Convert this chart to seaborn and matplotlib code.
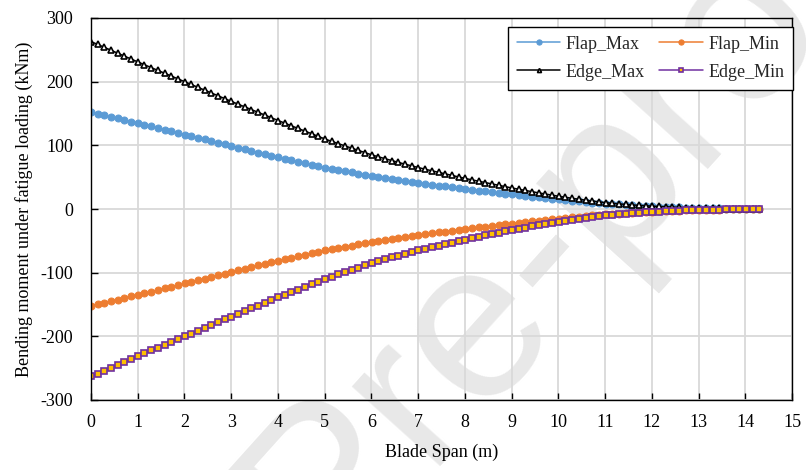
import numpy as np
import pandas as pd
import matplotlib
matplotlib.use("Agg")
import matplotlib.pyplot as plt
import seaborn as sns

# ---------------- data ----------------
span_m = np.linspace(0, 14.3, 101)

flap_max = [
    152.0, 149.6, 147.1, 144.7, 142.3, 139.9, 137.4, 135.0,
    132.4, 129.9, 127.3, 124.7, 122.1, 119.6, 117.0,
    114.4, 111.9, 109.3, 106.7, 104.1, 101.6, 99.0,
    96.4, 93.8, 91.2, 88.7, 86.1, 83.5, 81.0,
    78.6, 76.3, 74.0, 71.7, 69.4, 67.2, 65.0,
    63.0, 61.1, 59.3, 57.4, 55.6, 53.8, 52.0,
    50.4, 48.8, 47.2, 45.6, 44.0, 42.5, 41.0,
    39.6, 38.2, 36.9, 35.5, 34.2, 32.8, 31.5,
    30.3, 29.0, 27.8, 26.6, 25.4, 24.2, 23.0,
    21.8, 20.6, 19.5, 18.4, 17.2, 16.1, 15.0,
    14.0, 13.0, 12.1, 11.2, 10.2, 9.3, 8.5,
    7.8, 7.1, 6.4, 5.8, 5.2, 4.6, 4.0,
    3.6, 3.2, 2.8, 2.4, 2.1, 1.8, 1.5,
    1.2, 1.0, 0.8, 0.6, 0.4, 0.3, 0.2,
    0.1, 0.0,
]

flap_min = [
    -152.0, -149.6, -147.1, -144.7, -142.3, -139.9, -137.4, -135.0,
    -132.4, -129.9, -127.3, -124.7, -122.1, -119.6, -117.0,
    -114.4, -111.9, -109.3, -106.7, -104.1, -101.6, -99.0,
    -96.4, -93.8, -91.2, -88.7, -86.1, -83.5, -81.0,
    -78.6, -76.3, -74.0, -71.7, -69.4, -67.2, -65.0,
    -63.0, -61.1, -59.3, -57.4, -55.6, -53.8, -52.0,
    -50.4, -48.8, -47.2, -45.6, -44.0, -42.5, -41.0,
    -39.6, -38.2, -36.9, -35.5, -34.2, -32.8, -31.5,
    -30.3, -29.0, -27.8, -26.6, -25.4, -24.2, -23.0,
    -21.8, -20.6, -19.5, -18.4, -17.2, -16.1, -15.0,
    -14.0, -13.0, -12.1, -11.2, -10.2, -9.3, -8.5,
    -7.8, -7.1, -6.4, -5.8, -5.2, -4.6, -4.0,
    -3.6, -3.2, -2.8, -2.4, -2.1, -1.8, -1.5,
    -1.2, -1.0, -0.8, -0.6, -0.4, -0.3, -0.2,
    -0.1, 0.0,
]

edge_max = [
    263.0, 258.4, 253.9, 249.3, 244.7, 240.1, 235.6, 231.0,
    226.6, 222.1, 217.7, 213.3, 208.9, 204.4, 200.0,
    195.6, 191.1, 186.7, 182.3, 177.9, 173.4, 169.0,
    164.7, 160.4, 156.1, 151.9, 147.6, 143.3, 139.0,
    134.8, 130.6, 126.5, 122.4, 118.3, 114.1, 110.0,
    106.3, 102.7, 99.1, 95.6, 92.1, 88.5, 85.0,
    82.0, 79.0, 76.1, 73.2, 70.4, 67.7, 65.0,
    62.5, 60.0, 57.6, 55.2, 52.8, 50.4, 48.0,
    45.8, 43.6, 41.5, 39.4, 37.2, 35.1, 33.0,
    31.0, 29.1, 27.2, 25.3, 23.5, 21.7, 20.0,
    18.4, 16.8, 15.3, 13.9, 12.6, 11.3, 10.0,
    9.0, 8.1, 7.2, 6.4, 5.7, 5.1, 4.5,
    4.0, 3.5, 3.0, 2.6, 2.2, 1.8, 1.5,
    1.2, 1.0, 0.8, 0.6, 0.4, 0.3, 0.2,
    0.1, 0.0,
]

edge_min = [
    -263.0, -258.4, -253.9, -249.3, -244.7, -240.1, -235.6, -231.0,
    -226.6, -222.1, -217.7, -213.3, -208.9, -204.4, -200.0,
    -195.6, -191.1, -186.7, -182.3, -177.9, -173.4, -169.0,
    -164.7, -160.4, -156.1, -151.9, -147.6, -143.3, -139.0,
    -134.8, -130.6, -126.5, -122.4, -118.3, -114.1, -110.0,
    -106.3, -102.7, -99.1, -95.6, -92.1, -88.5, -85.0,
    -82.0, -79.0, -76.1, -73.2, -70.4, -67.7, -65.0,
    -62.5, -60.0, -57.6, -55.2, -52.8, -50.4, -48.0,
    -45.8, -43.6, -41.5, -39.4, -37.2, -35.1, -33.0,
    -31.0, -29.1, -27.2, -25.3, -23.5, -21.7, -20.0,
    -18.4, -16.8, -15.3, -13.9, -12.6, -11.3, -10.0,
    -9.0, -8.1, -7.2, -6.4, -5.7, -5.1, -4.5,
    -4.0, -3.5, -3.0, -2.6, -2.2, -1.8, -1.5,
    -1.2, -1.0, -0.8, -0.6, -0.4, -0.3, -0.2,
    -0.1, 0.0,
]

series_names = ["Flap_Max", "Flap_Min", "Edge_Max", "Edge_Min"]
x_ticks = list(range(0, 16))
y_ticks = [-300, -200, -100, 0, 100, 200, 300]

# ---------------- style ----------------
sns.set_theme(style="white")
plt.rcParams["font.family"] = ["Liberation Serif", "DejaVu Serif"]
plt.rcParams["axes.unicode_minus"] = False

fig = plt.figure(figsize=(8.06, 4.70), dpi=100)
fig.patch.set_facecolor("white")
ax = fig.add_axes([91 / 806, 1 - 400 / 470, (792 - 91) / 806, (400 - 18) / 470])
ax.set_zorder(2)
ax.set_facecolor("none")

# watermark (behind the plot content)
fig.text(325 / 806, 1 - 575 / 470, "Pre-proof", fontsize=162, color="#e8e8e8",
         family="Liberation Sans", rotation=48, rotation_mode="anchor",
         ha="left", va="baseline", zorder=0)

styles = {
    "Flap_Max": dict(color="#5B9BD5", marker="o", markersize=5.0,
                     markerfacecolor="#5B9BD5", markeredgecolor="#5B9BD5"),
    "Flap_Min": dict(color="#ED7D31", marker="o", markersize=5.0,
                     markerfacecolor="#ED7D31", markeredgecolor="#ED7D31"),
    "Edge_Max": dict(color="#000000", marker="^", markersize=3.9,
                     markerfacecolor="white", markeredgecolor="#000000",
                     markeredgewidth=1.2),
    "Edge_Min": dict(color="#7030A0", marker="s", markersize=4.4,
                     markerfacecolor="#FFC000", markeredgecolor="#7030A0",
                     markeredgewidth=1.2),
}
values = {"Flap_Max": flap_max, "Flap_Min": flap_min,
          "Edge_Max": edge_max, "Edge_Min": edge_min}

for name in series_names:
    df = pd.DataFrame({"x": span_m, "y": values[name]})
    sns.lineplot(data=df, x="x", y="y", ax=ax, label=name, linewidth=1.1,
                 estimator=None, sort=False, **styles[name])

ax.set_xlim(0, 15)
ax.set_ylim(-300, 300)
ax.set_xticks(x_ticks)
ax.set_yticks(y_ticks)
ax.grid(True, color="#d9d9d9", linewidth=1.3)
ax.set_axisbelow(True)
for s in ax.spines.values():
    s.set_visible(True)
    s.set_color("black")
    s.set_linewidth(1.0)
ax.tick_params(axis="both", direction="in", length=5, width=1.0, color="black",
               labelsize=13, labelcolor="black", bottom=True, left=True,
               top=False, right=False)
ax.tick_params(axis="x", pad=10)
ax.tick_params(axis="y", pad=13)
ax.set_xlabel("Blade Span (m)", fontsize=13, color="black", labelpad=9)
ax.set_ylabel("Bending moment under fatigue loading (kNm)", fontsize=13,
              color="black", labelpad=5)

h, l = ax.get_legend_handles_labels()
order = [l.index(n) for n in ["Flap_Max", "Edge_Max", "Flap_Min", "Edge_Min"]]
leg = ax.legend([h[i] for i in order], [l[i] for i in order], ncol=2,
                loc="upper right", bbox_to_anchor=(1.0015, 0.977),
                fontsize=13, frameon=True, fancybox=False, edgecolor="black",
                framealpha=1, handlelength=2.4, columnspacing=0.8,
                handletextpad=0.3, borderpad=0.5, labelspacing=0.6,
                markerscale=0.75, borderaxespad=0)
leg.get_frame().set_linewidth(1.0)

fig.savefig("out.png", dpi=100)
